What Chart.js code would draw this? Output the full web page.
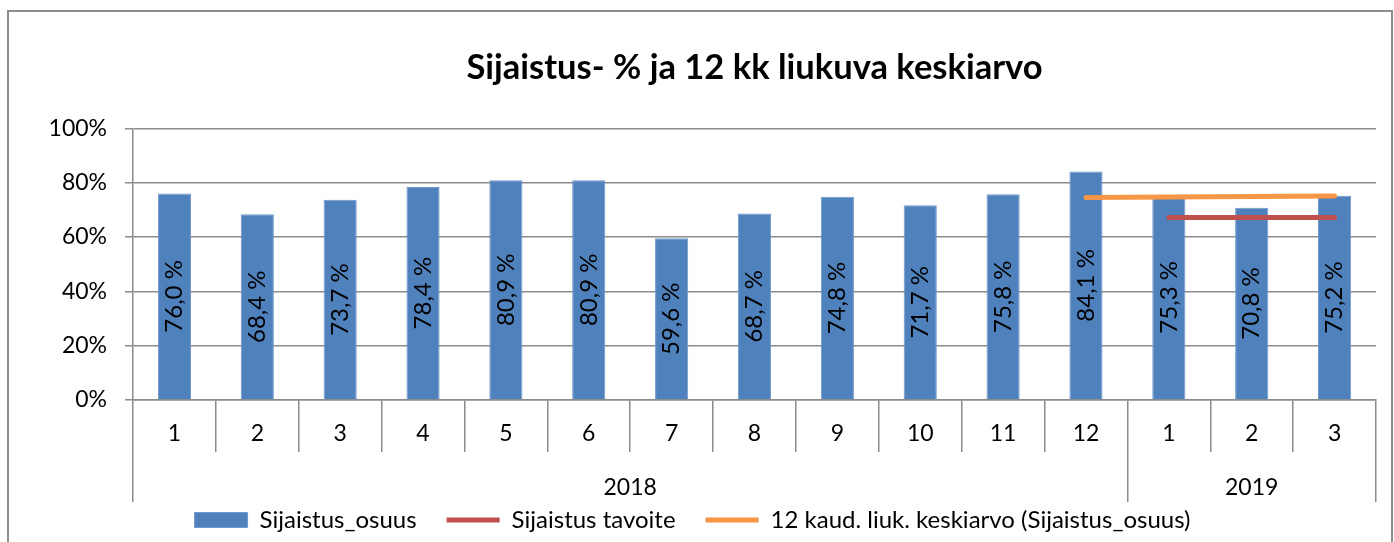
<!DOCTYPE html>
<html>
<head>
<meta charset="utf-8">
<script src="https://cdn.jsdelivr.net/npm/chart.js@4"></script>
<style>
    html, body { margin: 0; padding: 0; background: #fff; overflow: hidden; }
    #frame {
        position: absolute;
        left: 7px;
        top: 10px;
        width: 1382px;
        height: 530px;
        border: 2px solid #8c8c8c;
        border-bottom: none;
    }
</style>
</head>
<body>
<div id="frame"><canvas id="sijaistusChart"></canvas></div>
<script>
// months shown on the axis, grouped by year
const months = ['1', '2', '3', '4', '5', '6', '7', '8', '9', '10', '11', '12', '1', '2', '3'];
const years = ['2018', '2019'];
const monthsPerYear = [12, 3];

// Sijaistus_osuus, % per month
const osuus = [76.0, 68.4, 73.7, 78.4, 80.9, 80.9, 59.6, 68.7, 74.8, 71.7, 75.8, 84.1, 75.3, 70.8, 75.2];
// Sijaistus tavoite
const tavoite = [null, null, null, null, null, null, null, null, null, null, null, null, 67.2, 67.2, 67.2];
// 12 kaud. liuk. keskiarvo
const liukuva = [null, null, null, null, null, null, null, null, null, null, null, 74.6, 74.7, 74.9, 75.1];

const gridColor = '#8c8c8c';
const fontFamily = 'Lato, "Liberation Sans", sans-serif';

// year separator positions and label positions on the index scale
const yearTicks = [];
const yearLabelAt = {};
let start = -0.5;
yearTicks.push(start);
years.forEach(function (y, i) {
    const end = start + monthsPerYear[i];
    const mid = (start + end) / 2;
    yearTicks.push(mid);
    yearLabelAt[mid] = y;
    yearTicks.push(end);
    start = end;
});

const barLabels = {
    id: 'barLabels',
    afterDatasetsDraw(chart) {
        const meta = chart.getDatasetMeta(0);
        const ctx = chart.ctx;
        ctx.save();
        ctx.fillStyle = '#000';
        ctx.font = '24px ' + fontFamily;
        ctx.textAlign = 'center';
        ctx.textBaseline = 'middle';
        meta.data.forEach(function (bar, i) {
            const txt = osuus[i].toFixed(1).replace('.', ',') + ' %';
            ctx.save();
            ctx.translate(bar.x, (bar.y + bar.base) / 2);
            ctx.rotate(-Math.PI / 2);
            ctx.fillText(txt, 0, 0);
            ctx.restore();
        });
        ctx.restore();
    }
};

// legend sits close under the year row, like the original
const legendNudge = {
    id: 'legendNudge',
    afterLayout(chart) {
        if (chart.legend) {
            chart.legend.top -= 24;
        }
    }
};

new Chart(document.getElementById('sijaistusChart'), {
    data: {
        labels: months,
        datasets: [{
            type: 'bar',
            label: 'Sijaistus_osuus',
            data: osuus,
            backgroundColor: '#4f81bd',
            borderColor: '#7099cb',
            borderWidth: 1,
            barPercentage: 0.4,
            categoryPercentage: 1,
            pointStyle: 'rect',
            order: 1,
            xAxisID: 'x'
        }, {
            type: 'line',
            label: 'Sijaistus tavoite',
            data: tavoite,
            borderColor: '#c0504d',
            backgroundColor: '#c0504d',
            borderWidth: 5,
            borderCapStyle: 'round',
            pointRadius: 0,
            pointStyle: 'line',
            order: 0,
            xAxisID: 'x'
        }, {
            type: 'line',
            label: '12 kaud. liuk. keskiarvo (Sijaistus_osuus)',
            data: liukuva,
            borderColor: '#f79646',
            backgroundColor: '#f79646',
            borderWidth: 5,
            borderCapStyle: 'round',
            pointRadius: 0,
            pointStyle: 'line',
            order: 0,
            xAxisID: 'x'
        }]
    },
    options: {
        responsive: true,
        maintainAspectRatio: false,
        animation: false,
        layout: { padding: { left: 0, right: 15, top: 0, bottom: 0 } },
        plugins: {
            title: {
                display: true,
                text: 'Sijaistus- % ja 12 kk liukuva keskiarvo',
                color: '#000',
                fullSize: false,
                font: { family: fontFamily, size: 34.5, weight: 'bold' },
                padding: { top: 35, bottom: 40 }
            },
            legend: {
                position: 'bottom',
                maxHeight: 40,
                labels: {
                    usePointStyle: true,
                    pointStyleWidth: 53,
                    boxHeight: 15,
                    padding: 30,
                    color: '#000',
                    font: { family: fontFamily, size: 24 },
                    sort: function (a, b) { return a.datasetIndex - b.datasetIndex; }
                }
            },
            tooltip: { enabled: false }
        },
        scales: {
            x: {
                type: 'category',
                position: 'bottom',
                weight: 0,
                offset: true,
                grid: {
                    offset: true,
                    drawOnChartArea: false,
                    tickLength: 52,
                    color: gridColor,
                    lineWidth: 1.5
                },
                border: { display: true, color: gridColor, width: 1.5 },
                ticks: {
                    padding: -32,
                    color: '#000',
                    maxRotation: 0,
                    autoSkip: false,
                    font: { family: fontFamily, size: 23 }
                },
                afterFit: function (s) { s.height = 52; }
            },
            year: {
                type: 'linear',
                position: 'bottom',
                weight: 1,
                min: -0.5,
                max: 14.5,
                afterBuildTicks: function (s) {
                    s.ticks = yearTicks.map(function (v) { return { value: v }; });
                },
                grid: {
                    drawOnChartArea: false,
                    tickLength: 50,
                    lineWidth: 1.5,
                    color: function (c) {
                        return (c.tick && yearLabelAt[c.tick.value]) ? 'rgba(0,0,0,0)' : gridColor;
                    }
                },
                border: { display: false },
                ticks: {
                    padding: -28,
                    color: '#000',
                    maxRotation: 0,
                    autoSkip: false,
                    font: { family: fontFamily, size: 23 },
                    callback: function (v) { return yearLabelAt[v] || ''; }
                },
                afterFit: function (s) { s.height = 50; }
            },
            y: {
                min: 0,
                max: 100,
                grid: { color: gridColor, lineWidth: 1.5, tickLength: 8 },
                border: { display: true, color: gridColor, width: 1.5 },
                ticks: {
                    stepSize: 20,
                    padding: 18,
                    color: '#000',
                    font: { family: fontFamily, size: 23 },
                    callback: function (v) { return v + '%'; }
                },
                afterFit: function (s) { s.width = 124; }
            }
        }
    },
    plugins: [barLabels, legendNudge]
});
</script>
</body>
</html>
